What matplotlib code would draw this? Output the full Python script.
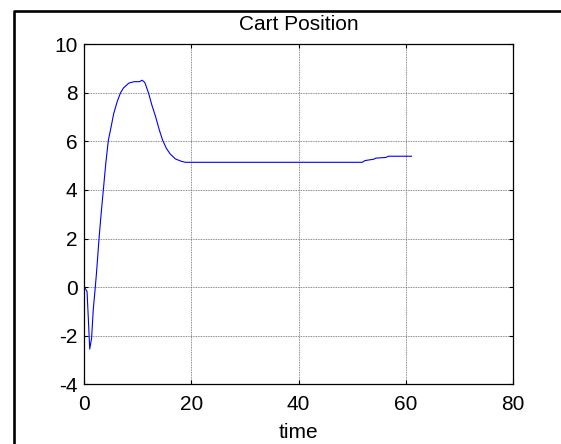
import matplotlib
matplotlib.use("Agg")
import matplotlib.pyplot as plt
from matplotlib.lines import Line2D

plt.rcParams['font.family'] = ['Liberation Sans', 'DejaVu Sans']
plt.rcParams['axes.unicode_minus'] = False

# cart position
t = [0.0, 0.5, 0.75, 1.0, 1.35, 1.65, 2.0, 2.27, 2.74, 3.14, 3.54, 4.0, 4.48,
     4.95, 5.48, 6.15, 6.75, 7.3, 8.3, 9.3, 10.3, 10.8, 11.3, 12.0, 12.6, 13.3,
     14.0, 14.6, 15.3, 16.0, 17.0, 18.0, 18.85, 30.0, 40.0, 51.9, 52.4, 54.1,
     54.4, 56.3, 56.8, 61.1]
pos = [0.0, -0.18, -1.35, -2.55, -2.1, -0.95, -0.1, 0.6, 2.0, 3.05, 4.0, 5.1,
       6.05, 6.55, 7.15, 7.65, 8.0, 8.2, 8.4, 8.46, 8.46, 8.52, 8.42, 7.98,
       7.5, 7.02, 6.47, 6.06, 5.72, 5.49, 5.28, 5.19, 5.14, 5.14, 5.14, 5.14,
       5.21, 5.27, 5.31, 5.34, 5.39, 5.39]

xticks = [0, 20, 40, 60, 80]
yticks = [-4, -2, 0, 2, 4, 6, 8, 10]

fig = plt.figure(figsize=(5.61, 4.44), dpi=100)
ax = fig.add_axes([0.1504, 0.1345, 0.7635, 0.7658])

ax.plot(t, pos, color='#0000ff', linewidth=0.8)

ax.set_xlim(0, 80)
ax.set_ylim(-4, 10)
ax.set_xticks(xticks)
ax.set_yticks(yticks)
ax.grid(True, color='0.4', linestyle=(0, (1, 1)), linewidth=0.6)
ax.tick_params(direction='in', length=3, width=0.8, top=True, right=True,
               labelsize=15)
ax.tick_params(axis='x', pad=8)
ax.tick_params(axis='y', pad=5)
for s in ax.spines.values():
    s.set_linewidth(0.9)

ax.set_title("Cart Position", fontsize=15, pad=10)
ax.set_xlabel("time", fontsize=15, labelpad=6)

# black frame around the figure (cut off at right and bottom)
fx = 13.5 / 561
fy = 1 - 10.7 / 444
fig.add_artist(Line2D([fx, fx, 1.0], [0.0, fy, fy], transform=fig.transFigure,
                      color='black', linewidth=1.9))

fig.savefig("out.png", dpi=100)
